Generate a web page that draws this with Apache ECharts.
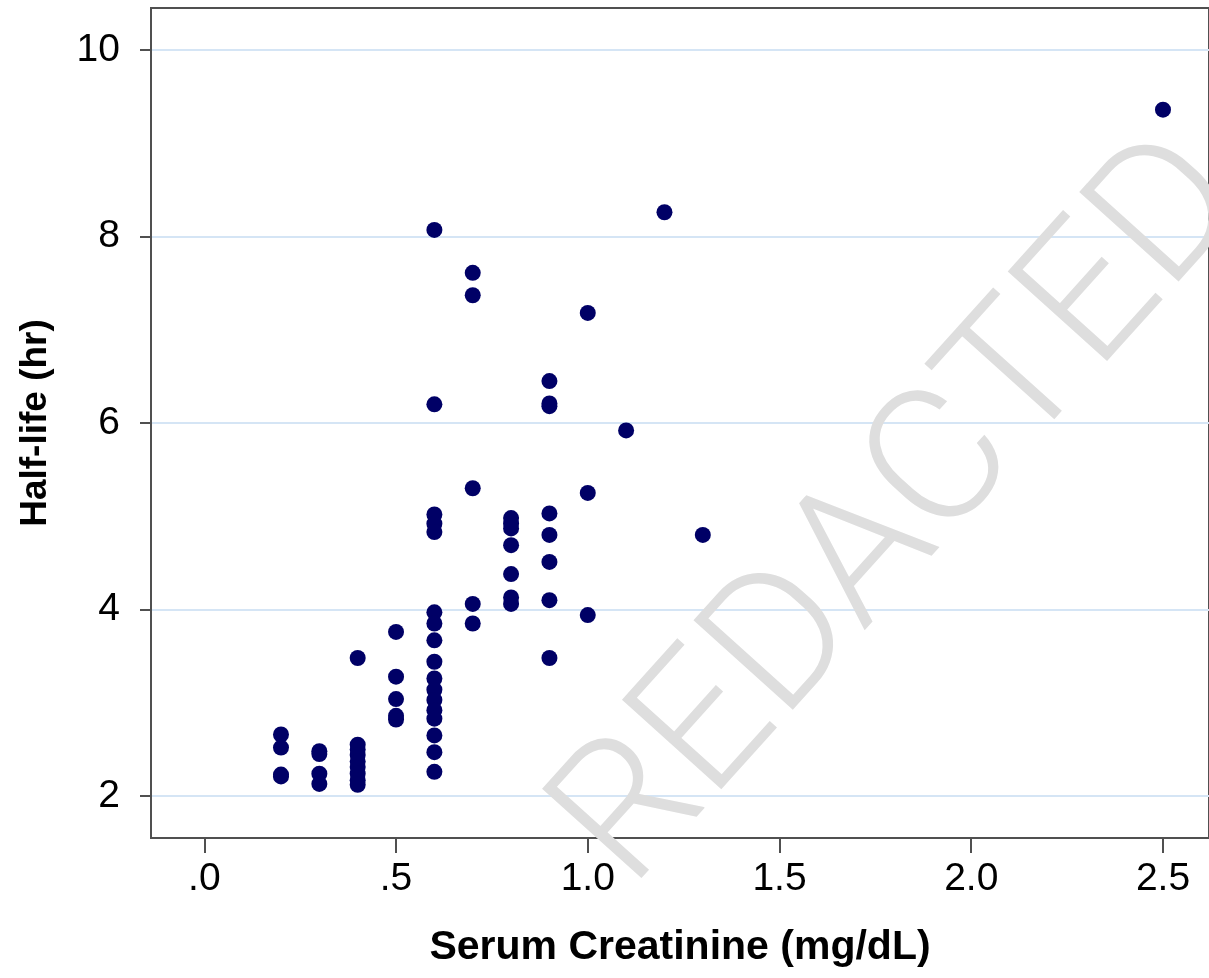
<!DOCTYPE html>
<html>
<head>
<meta charset="utf-8">
<script src="https://cdn.jsdelivr.net/npm/echarts@6/dist/echarts.min.js"></script>
<style>
html,body{margin:0;padding:0;background:#fff;}
#chart{width:1209px;height:978px;}
</style>
</head>
<body>
<div id="chart"></div>
<script>
// Serum creatinine levels (mg/dL) present in the data
const creatinineLevels = [0.2, 0.3, 0.4, 0.5, 0.6, 0.7, 0.8, 0.9, 1.0, 1.1, 1.2, 1.3, 2.5];
// Half-life (hr) values observed at each creatinine level (same order)
const hl02 = [2.66, 2.52, 2.23, 2.21];
const hl03 = [2.48, 2.45, 2.24, 2.13];
const hl04 = [3.48, 2.55, 2.50, 2.44, 2.37, 2.31, 2.24, 2.17, 2.12];
const hl05 = [3.76, 3.28, 3.04, 2.86, 2.82];
const hl06 = [8.07, 6.20, 5.02, 4.92, 4.83, 3.97, 3.85, 3.67, 3.44, 3.26, 3.14, 3.03, 2.92, 2.83, 2.65, 2.47, 2.26];
const hl07 = [7.61, 7.37, 5.30, 4.06, 3.85];
const hl08 = [4.98, 4.92, 4.87, 4.69, 4.38, 4.13, 4.06];
const hl09 = [6.45, 6.21, 6.18, 5.03, 4.80, 4.51, 4.10, 3.48];
const hl10 = [7.18, 5.25, 3.94];
const hl11 = [5.92];
const hl12 = [8.26];
const hl13 = [4.80];
const hl25 = [9.36];
const halfLifeByLevel = [hl02, hl03, hl04, hl05, hl06, hl07, hl08, hl09, hl10, hl11, hl12, hl13, hl25];

const xTicks = [0, 0.5, 1.0, 1.5, 2.0, 2.5];
const xTickLabels = ['.0', '.5', '1.0', '1.5', '2.0', '2.5'];
const yTicks = [2, 4, 6, 8, 10];
const yTickLabels = ['2', '4', '6', '8', '10'];
const xTitle = 'Serum Creatinine (mg/dL)';
const yTitle = 'Half-life (hr)';
const watermark = 'REDACTED';

const points = [];
creatinineLevels.forEach((c, i) => halfLifeByLevel[i].forEach(h => points.push([c, h])));

const axisColor = '#505050';
const font = 'Liberation Sans, Arial, sans-serif';

const chart = echarts.init(document.getElementById('chart'), null, {renderer: 'canvas'});
chart.setOption({
  animation: false,
  backgroundColor: '#ffffff',
  grid: {
    left: 151, top: 8, right: -4, bottom: 140,
    show: true, borderColor: axisColor, borderWidth: 2, backgroundColor: 'transparent'
  },
  xAxis: {
    type: 'value',
    min: -0.139, max: 2.62,
    name: xTitle,
    nameLocation: 'middle',
    nameGap: 89,
    nameTextStyle: {fontFamily: font, fontSize: 41, fontWeight: 'bold', color: '#000'},
    axisLine: {show: true, onZero: false, lineStyle: {color: axisColor, width: 2}},
    axisTick: {show: true, length: 15, customValues: xTicks, lineStyle: {color: axisColor, width: 2}},
    axisLabel: {
      customValues: xTicks, margin: 22,
      fontFamily: font, fontSize: 39, color: '#000',
      formatter: v => { const i = xTicks.findIndex(t => Math.abs(t - v) < 1e-9); return i >= 0 ? xTickLabels[i] : ''; }
    },
    splitLine: {show: false}
  },
  yAxis: {
    type: 'value',
    min: 1.55, max: 10.45,
    name: yTitle,
    nameLocation: 'middle',
    nameGap: 97,
    nameRotate: 90,
    nameTextStyle: {fontFamily: font, fontSize: 37, fontWeight: 'bold', color: '#000'},
    axisLine: {show: true, onZero: false, lineStyle: {color: axisColor, width: 2}},
    axisTick: {show: true, length: 11, customValues: yTicks, lineStyle: {color: axisColor, width: 2}},
    axisLabel: {
      customValues: yTicks, margin: 31,
      fontFamily: font, fontSize: 39, color: '#000',
      formatter: v => { const i = yTicks.findIndex(t => Math.abs(t - v) < 1e-9); return i >= 0 ? yTickLabels[i] : ''; }
    },
    splitLine: {show: true, lineStyle: {color: '#d5e5f5', width: 2}}
  },
  series: [{
    type: 'scatter',
    data: points,
    symbol: 'circle',
    symbolSize: 16,
    itemStyle: {color: '#000066', opacity: 1},
    z: 3
  }],
  graphic: [{
    type: 'text',
    x: 905, y: 515,
    rotation: 48 * Math.PI / 180,
    z: 10,
    silent: true,
    style: {
      text: watermark,
      fontFamily: 'Roboto, Liberation Sans, sans-serif',
      fontWeight: 300,
      fontSize: 188,
      fill: '#dedede',
      align: 'center',
      verticalAlign: 'middle'
    }
  }]
});
</script>
</body>
</html>
